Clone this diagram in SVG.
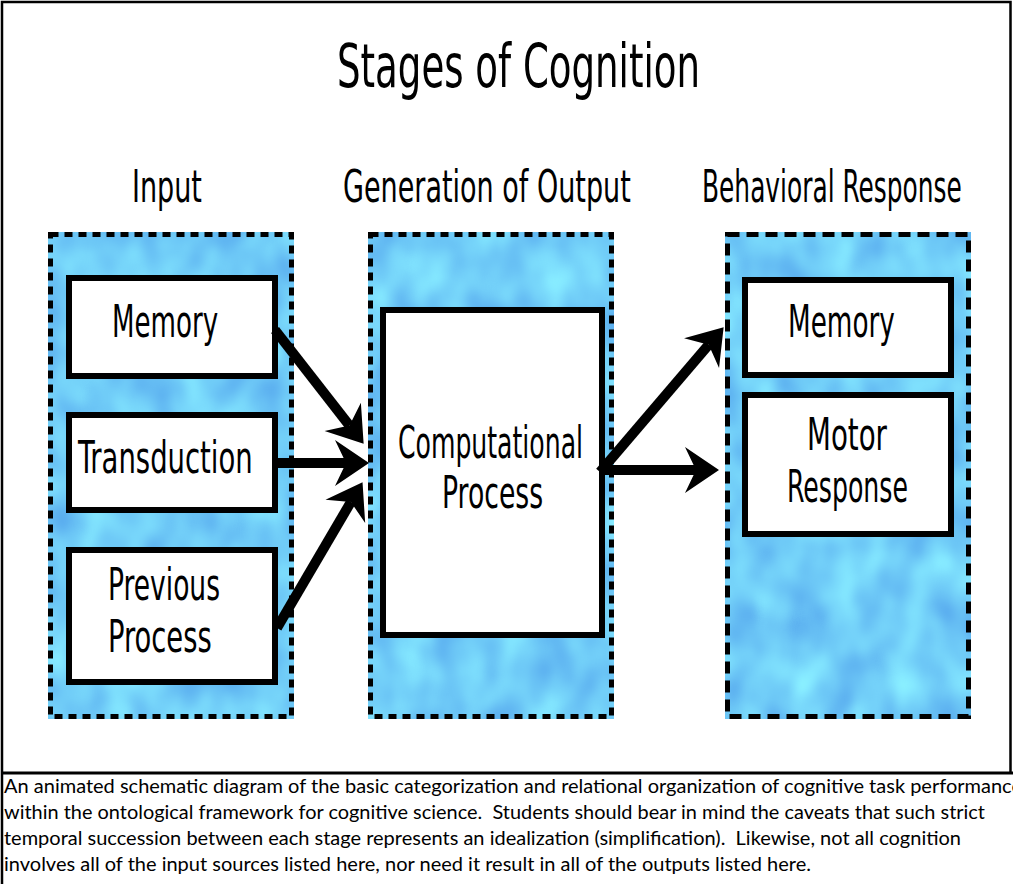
<svg xmlns="http://www.w3.org/2000/svg" width="1013" height="884" viewBox="0 0 1013 884">
  <style>
    .hand { font-family: "DejaVu Sans Condensed", "DejaVu Sans", sans-serif; font-stretch: condensed; fill: #000; }
    .title { font-size: 60px; }
    .head { font-size: 44px; }
    .lbl { font-size: 45px; }
    .cap { font-family: Lato, "Liberation Sans", sans-serif; font-size: 18.5px; fill: #000; }
    .box { fill: #fff; stroke: #000; stroke-width: 6; }
    .panel-edge { fill: none; stroke: #000; stroke-width: 5; }
    .arrow { stroke: #000; stroke-width: 10; fill: none; marker-end: url(#barb); }
  </style>
  <defs>
    <!-- soft mottled water-like blue for the stage panels -->
    <filter id="water" x="0" y="0" width="1" height="1" filterUnits="objectBoundingBox" color-interpolation-filters="sRGB">
      <feTurbulence type="fractalNoise" baseFrequency="0.028 0.02" numOctaves="2" seed="7" result="n"/>
      <feGaussianBlur in="n" stdDeviation="1.5" result="s"/>
      <feColorMatrix in="s" type="matrix" values="0.26 0 0 0 0.31  0.36 0 0 0 0.62  0.10 0 0 0 0.92  0 0 0 0 1"/>
    </filter>
    <!-- barbed arrowhead; the shaft ends at the notch -->
    <marker id="barb" markerUnits="userSpaceOnUse" viewBox="-12 -24 36 48" refX="0" refY="0" markerWidth="36" markerHeight="48" orient="auto" overflow="visible">
      <path d="M23,0 L-11,-23 L0,0 L-11,23 Z" fill="#000"/>
    </marker>
  </defs>

  <rect x="0" y="0" width="1013" height="884" fill="#fff"/>
  <!-- outer frame and caption rule -->
  <path d="M2,884 V2 H1010.5 V773" fill="none" stroke="#000" stroke-width="2.5"/>
  <line x1="2" y1="773" x2="1013" y2="773" stroke="#000" stroke-width="3"/>

  <text class="hand title" transform="translate(337,87) scale(0.66,1)" textLength="550" lengthAdjust="spacingAndGlyphs">Stages of Cognition</text>

  <text class="hand head" transform="translate(132,202) scale(0.66,1)" textLength="106" lengthAdjust="spacingAndGlyphs">Input</text>
  <text class="hand head" transform="translate(343,202) scale(0.66,1)" textLength="436" lengthAdjust="spacingAndGlyphs">Generation of Output</text>
  <text class="hand head" transform="translate(702,202) scale(0.62,1)" textLength="419" lengthAdjust="spacingAndGlyphs">Behavioral Response</text>

  <!-- Input stage -->
  <g id="input-stage">
    <rect x="48" y="232" width="246" height="487" filter="url(#water)"/>
    <rect class="panel-edge" x="50.5" y="234.5" width="241" height="482" stroke-dasharray="8 6"/>
  </g>
  <g id="input-memory">
    <rect class="box" x="69" y="278" width="206" height="98"/>
    <text class="hand lbl" transform="translate(112,337) scale(0.64,1)" textLength="166" lengthAdjust="spacingAndGlyphs">Memory</text>
  </g>
  <g id="input-transduction">
    <rect class="box" x="69" y="415" width="206" height="95"/>
    <text class="hand lbl" transform="translate(78,473) scale(0.64,1)" textLength="273" lengthAdjust="spacingAndGlyphs">Transduction</text>
  </g>
  <g id="input-previous">
    <rect class="box" x="69" y="550" width="206" height="132"/>
    <text class="hand lbl" transform="translate(108,600) scale(0.64,1)" textLength="175" lengthAdjust="spacingAndGlyphs">Previous</text>
    <text class="hand lbl" transform="translate(108,652) scale(0.64,1)" textLength="162" lengthAdjust="spacingAndGlyphs">Process</text>
  </g>

  <!-- Generation stage -->
  <g id="generation-stage">
    <rect x="368" y="232" width="246" height="487" filter="url(#water)"/>
    <rect class="panel-edge" x="370.5" y="234.5" width="241" height="482" stroke-dasharray="8 6"/>
  </g>
  <g id="computational-process">
    <rect class="box" x="383" y="310" width="219" height="325"/>
    <text class="hand lbl" transform="translate(398,458) scale(0.58,1)" textLength="319" lengthAdjust="spacingAndGlyphs">Computational</text>
    <text class="hand lbl" transform="translate(442,508) scale(0.64,1)" textLength="158" lengthAdjust="spacingAndGlyphs">Process</text>
  </g>

  <!-- Behavioral response stage -->
  <g id="response-stage">
    <rect x="725" y="232" width="246" height="487" filter="url(#water)"/>
    <rect class="panel-edge" x="727.5" y="234.5" width="241" height="482" stroke-dasharray="12 7"/>
  </g>
  <g id="output-memory">
    <rect class="box" x="745" y="280" width="206" height="95"/>
    <text class="hand lbl" transform="translate(788,337) scale(0.64,1)" textLength="167" lengthAdjust="spacingAndGlyphs">Memory</text>
  </g>
  <g id="motor-response">
    <rect class="box" x="745" y="395" width="206" height="139"/>
    <text class="hand lbl" transform="translate(807,450) scale(0.64,1)" textLength="125" lengthAdjust="spacingAndGlyphs">Motor</text>
    <text class="hand lbl" transform="translate(787,502) scale(0.64,1)" textLength="189" lengthAdjust="spacingAndGlyphs">Response</text>
  </g>

  <!-- connectors -->
  <g id="connectors">
    <line class="arrow" x1="275" y1="330" x2="349.5" y2="425.6"/>
    <line class="arrow" x1="278" y1="463" x2="346" y2="463"/>
    <line class="arrow" x1="277" y1="628" x2="350.9" y2="502"/>
    <line class="arrow" x1="600" y1="472" x2="708.7" y2="344.7"/>
    <line class="arrow" x1="600" y1="470" x2="696" y2="470"/>
  </g>

  <!-- caption -->
  <g id="caption">
    <text class="cap" x="4" y="793" textLength="1018" lengthAdjust="spacingAndGlyphs">An animated schematic diagram of the basic categorization and relational organization of cognitive task performance</text>
    <text class="cap" x="4" y="819" textLength="981" lengthAdjust="spacingAndGlyphs">within the ontological framework for cognitive science.&#160; Students should bear in mind the caveats that such strict</text>
    <text class="cap" x="4" y="845" textLength="957" lengthAdjust="spacingAndGlyphs">temporal succession between each stage represents an idealization (simplification).&#160; Likewise, not all cognition</text>
    <text class="cap" x="4" y="871" textLength="807" lengthAdjust="spacingAndGlyphs">involves all of the input sources listed here, nor need it result in all of the outputs listed here.</text>
  </g>
</svg>
